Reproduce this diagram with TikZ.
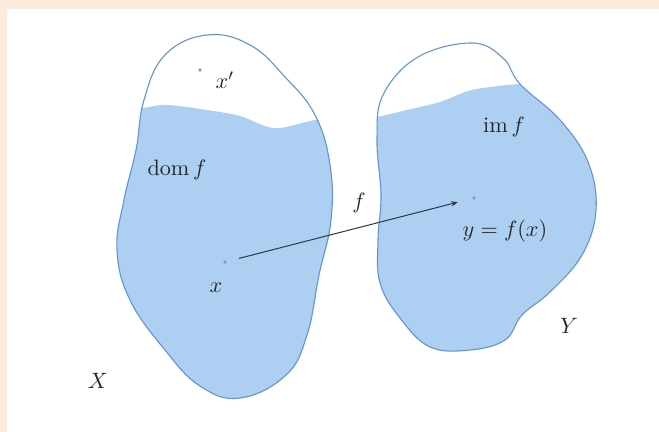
\documentclass[tikz,border=0pt]{standalone}
\usepackage{fontspec}
\usetikzlibrary{arrows.meta}
\definecolor{peach}{RGB}{252,235,221}
\definecolor{water}{RGB}{172,207,242}
\definecolor{rim}{RGB}{100,148,215}
\definecolor{arrowc}{RGB}{45,55,70}
\definecolor{dotc}{RGB}{120,160,215}
\begin{document}
\begin{tikzpicture}[x=0.45pt,y=-0.45pt,
  lbl/.style={inner sep=0pt, text=black!85},
  pt/.style={circle,fill=dotc,inner sep=0pt,minimum size=1.7pt},
  rimline/.style={draw=rim,line width=0.5pt}]
\useasboundingbox (0,0) rectangle (659,432);
\fill[peach] (0,0) rectangle (659,432);
\fill[white] (7,9) rectangle (659,432);
% left blob X
\begin{scope}
\clip plot[smooth cycle, tension=0.7] coordinates {(207,35) (250,45) (285,77) (315,115) (330,165) (331,220) (319,275) (307,335) (286,375) (240,398) (200,386) (165,350) (130,300) (117,250) (124,200) (136,150) (144,100) (165,55)};
\fill[water] plot[smooth, tension=0.6] coordinates {(120,110) (143,108) (167,105) (207,110) (240,116) (262,125) (280,128) (315,120) (345,116)} -- (345,420) -- (110,420) -- cycle;
\end{scope}
\draw[rimline] plot[smooth cycle, tension=0.7] coordinates {(207,35) (250,45) (285,77) (315,115) (330,165) (331,220) (319,275) (307,335) (286,375) (240,398) (200,386) (165,350) (130,300) (117,250) (124,200) (136,150) (144,100) (165,55)};
% right blob Y
\begin{scope}
\clip plot[smooth cycle, tension=0.65] coordinates {(472,43) (503,58) (520,84) (560,120) (588,162) (596,210) (582,255) (550,292) (522,315) (505,340) (470,350) (430,347) (400,318) (380,283) (378,240) (381,195) (377,140) (383,95) (418,57)};
\fill[water] plot[smooth] coordinates {(360,119) (377,117) (407,110) (440,102) (472,90) (519,84) (560,84) (610,84)} -- (610,360) -- (360,360) -- cycle;
\end{scope}
\draw[rimline] plot[smooth cycle, tension=0.65] coordinates {(472,43) (503,58) (520,84) (560,120) (588,162) (596,210) (582,255) (550,292) (522,315) (505,340) (470,350) (430,347) (400,318) (380,283) (378,240) (381,195) (377,140) (383,95) (418,57)};
% points and labels
\node[pt] (xp) at (200,70) {};
\node[lbl] (xpl) at (225,80) {$x'$};
\node[lbl] (dom) at (177,170) {$\mathrm{dom}\,f$};
\node[lbl] (im) at (504,127) {$\mathrm{im}\,f$};
\node[pt] (xd) at (225,262) {};
\node[lbl] (xl) at (216,288) {$x$};
\node[pt] (yd) at (474,198) {};
\node[lbl] (yl) at (505,231) {$y = f(x)$};
\node[lbl] (fl) at (359,203) {$f$};
\node[lbl] (XL) at (98,381) {$X$};
\node[lbl] (YL) at (569,326) {$Y$};
\draw[arrowc, line width=0.45pt, -{Stealth[length=3pt,width=2.4pt]}, shorten <=5.5pt, shorten >=6.5pt] (xd) -- (yd);
\end{tikzpicture}
\end{document}
